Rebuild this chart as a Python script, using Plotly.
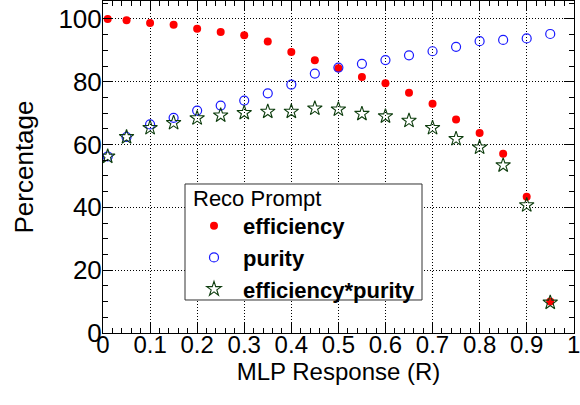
import plotly.graph_objects as go

response = [0.01, 0.05, 0.10, 0.15, 0.20, 0.25, 0.30, 0.35, 0.40, 0.45,
            0.50, 0.55, 0.60, 0.65, 0.70, 0.75, 0.80, 0.85, 0.90, 0.95]
efficiency = [100.0, 99.6, 98.7, 98.1, 96.9, 95.8, 94.8, 92.8, 89.5, 86.8,
              84.3, 81.5, 79.5, 76.5, 73.0, 68.0, 63.7, 57.1, 43.4, 10.0]
purity = [56.2, 62.4, 66.4, 68.5, 70.8, 72.4, 74.0, 76.3, 79.1, 82.6,
          84.5, 85.7, 86.9, 88.4, 89.7, 91.1, 92.9, 93.3, 93.8, 95.2]
eff_pur = [56.2, 62.4, 65.3, 66.9, 68.4, 69.3, 70.1, 70.5, 70.5, 71.5,
           71.2, 69.8, 69.0, 67.6, 65.3, 61.8, 59.1, 53.4, 40.7, 9.7]

x_ticks = [0, 0.1, 0.2, 0.3, 0.4, 0.5, 0.6, 0.7, 0.8, 0.9, 1.0]
x_labels = ["0", "0.1", "0.2", "0.3", "0.4", "0.5", "0.6", "0.7", "0.8", "0.9", "1"]
y_ticks = [0, 20, 40, 60, 80, 100]
y_labels = ["0", "20", "40", "60", "80", "100"]

legend_header = "Reco Prompt"

FONT = "Liberation Sans, Arial, Helvetica, sans-serif"

fig = go.Figure()
fig.add_trace(go.Scatter(
    x=response, y=efficiency, mode="markers", name="<b>efficiency</b>",
    marker=dict(symbol="circle", size=8, color="#ff0000", line=dict(width=0)),
))
fig.add_trace(go.Scatter(
    x=response, y=purity, mode="markers", name="<b>purity</b>",
    marker=dict(symbol="circle-open", size=9, color="#1a1aff", line=dict(width=1.2)),
))
fig.add_trace(go.Scatter(
    x=response, y=eff_pur, mode="markers", name="<b>efficiency*purity</b>",
    marker=dict(symbol="star-open", size=11, color="#0d3d0d", line=dict(width=1.1)),
))

axis_common = dict(
    showline=True, linecolor="black", linewidth=1, mirror="allticks",
    ticks="inside", tickcolor="black", tickwidth=1,
    showgrid=True, gridcolor="black", gridwidth=1, griddash="1px,2px",
    zeroline=False, ticklabeloverflow="allow",
)

fig.update_xaxes(
    range=[0, 1.0005], tickvals=x_ticks, ticktext=x_labels, ticklen=10,
    tickfont=dict(family=FONT, size=24, color="black"),
    ticklabelstandoff=-10,
    minor=dict(dtick=0.02, ticks="inside", ticklen=5, tickcolor="black", showgrid=False),
    title=dict(text="MLP Response (R)", font=dict(family=FONT, size=24, color="black"), standoff=5),
    **axis_common,
)
fig.update_yaxes(
    range=[0, 105.7], tickvals=y_ticks, ticktext=y_labels, ticklen=10,
    tickfont=dict(family=FONT, size=26, color="black"),
    ticklabelstandoff=-5,
    minor=dict(dtick=5, ticks="inside", ticklen=5, tickcolor="black", showgrid=False),
    title=dict(text="Percentage", font=dict(family=FONT, size=26, color="black"), standoff=17),
    **axis_common,
)

# legend frame and header
fig.add_shape(type="rect", xref="paper", yref="paper",
              x0=0.1741, x1=0.6773, y0=0.0994, y1=0.4488,
              line=dict(color="#333333", width=1), fillcolor="white", layer="above")
fig.add_annotation(text=legend_header, xref="paper", yref="paper",
                   x=0.1868, y=0.406, xanchor="left", yanchor="middle",
                   showarrow=False, font=dict(family=FONT, size=22, color="black"))

fig.update_layout(
    width=580, height=405,
    margin=dict(l=103, r=6, t=1, b=72),
    paper_bgcolor="white", plot_bgcolor="white",
    font=dict(family=FONT, color="black"),
    showlegend=True,
    legend=dict(
        x=0.1741, y=0.3856, xanchor="left", yanchor="top",
        bgcolor="rgba(0,0,0,0)", borderwidth=0,
        font=dict(family=FONT, size=22, color="black"),
        itemwidth=48,
        tracegroupgap=0,
    ),
)

fig.write_html("out.html")
